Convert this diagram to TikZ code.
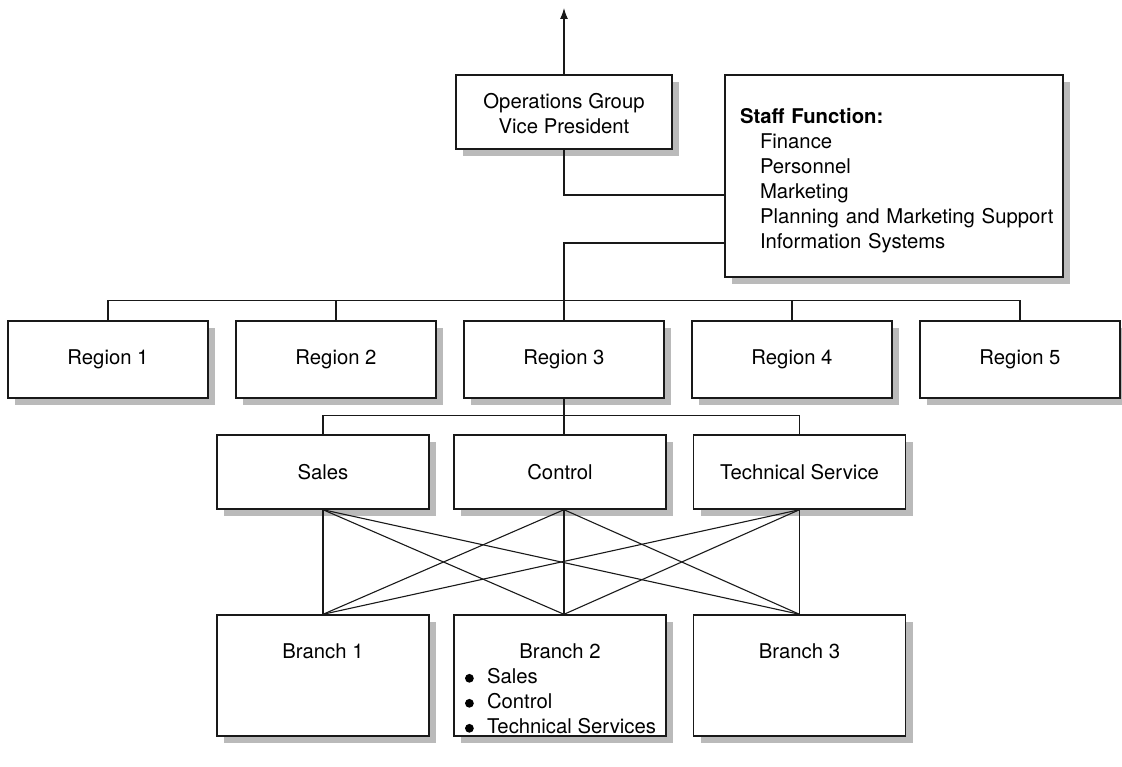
\documentclass[tikz,border=0pt]{standalone}
\usepackage{fontspec}
\setmainfont{TeX Gyre Heros}
\usetikzlibrary{arrows.meta,positioning,shadows}

\tikzset{
  box/.style={draw=black!90,line width=1.4pt,fill=white,inner sep=0pt,align=center,
    font=\fontsize{20.3}{25}\selectfont,
    drop shadow={shadow xshift=7pt,shadow yshift=-7pt,fill=black!27,opacity=1}},
  link/.style={draw=black!90,line width=1.1pt},
}
\newcommand{\bul}{\hspace*{11pt}\tikz[baseline=0pt]\fill (4.4pt,5pt) circle[radius=4.4pt];\hspace{13.2pt}}
\newcommand{\branchtext}[2]{\parbox[c][121pt][t]{212pt}{\vspace*{28.5pt}\centering #1\par\raggedright #2}}

\begin{document}
\begin{tikzpicture}[x=1pt,y=-1pt]
\useasboundingbox (0,0) rectangle (1122,767);

% top of the chart
\node[box,minimum width=216pt,minimum height=74pt] (ops) at (564,112)
  {\rule{0pt}{19pt}Operations Group\\Vice President};
\coordinate (up) at (564,8);
\node[box,text width=308pt,inner xsep=15pt,align=left,minimum height=202pt] (staff) at (894,176)
  {\rule{0pt}{25pt}\textbf{Staff Function:}\\
   \hspace*{20pt}Finance\\
   \hspace*{20pt}Personnel\\
   \hspace*{20pt}Marketing\\
   \hspace*{20pt}\mbox{Planning and Marketing Support}\\
   \hspace*{20pt}Information Systems};

% regions
\foreach \i/\x in {1/108,2/336,3/564,4/792,5/1020}
  \node[box,minimum width=200pt,minimum height=77pt] (r\i) at (\x,359.5) {Region \i};

% functions under region 3
\foreach \n/\t/\x in {sales/Sales/323,ctrl/Control/560,tech/Technical Service/799.5}
  \node[box,minimum width=212pt,minimum height=74pt] (\n) at (\x,472) {\t};

% branches
\node[box,minimum width=212pt,minimum height=121pt] (b1) at (323,675.5) {\branchtext{Branch 1}{}};
\node[box,minimum width=212pt,minimum height=121pt] (b2) at (560,675.5)
  {\branchtext{Branch 2}{\bul Sales\\
   \bul Control\\
   \bul Technical Services}};
\node[box,minimum width=212pt,minimum height=121pt] (b3) at (799.5,675.5) {\branchtext{Branch 3}{}};

% connectors
\draw[link,-{Latex[length=11pt,width=8pt]}] (ops.north) -- (up);
\draw[link] (ops.south) |- ([yshift=-19pt]staff.west);
\draw[link] ([yshift=-67pt]staff.west) -| (r3.north);
\draw[link] (r1.north) -- ++(0,-20) -| (r5.north);
\foreach \i in {2,4}
  \draw[link] (r\i.north) -- ++(0,-20);
\draw[link] (r3.south) -- ([xshift=4pt]ctrl.north);
\draw[link] (sales.north) -- ++(0,-19) -| (tech.north);
\foreach \a/\da in {sales/0,ctrl/4,tech/0}
  \foreach \b/\db in {b1/0,b2/4,b3/0}
    \draw[link] ([xshift=\da pt]\a.south) -- ([xshift=\db pt]\b.north);
\end{tikzpicture}
\end{document}
